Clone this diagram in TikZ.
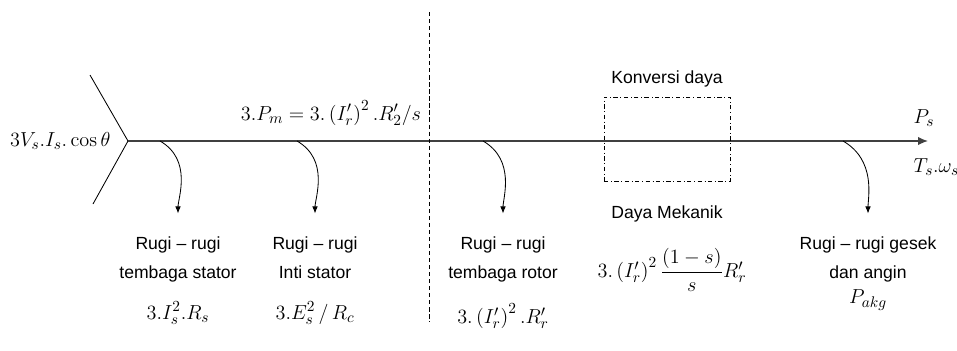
\documentclass[tikz,border=0pt]{standalone}
\usepackage{amsmath}
\usepackage[no-math]{fontspec}
\setmainfont{Liberation Sans}
\usetikzlibrary{arrows.meta, positioning}
\tikzstyle{loss} = [align=center, inner sep=0pt, anchor=north, font=\fontsize{12.5}{21}\selectfont]
\tikzstyle{formula} = [inner sep=1pt, font=\fontsize{15}{17}\selectfont]
\tikzstyle{arrow} = [semithick, -{Latex[length=5pt, width=4pt]}, shorten >=16pt]
\tikzstyle{flow} = [line width=1.1pt, draw=black!75, -{Latex[length=7pt, width=6pt]}]
\tikzstyle{convbox} = [rectangle, draw, dash dot, semithick, minimum width=3.15cm, minimum height=2.1cm]

\begin{document}
\begin{tikzpicture}[x=0.025cm, y=-0.025cm]
      \useasboundingbox (0,0) rectangle (957,350);

      % Daya masuk
      \coordinate (tip) at (128,141);
      \coordinate (chevtop) at (90,75);
      \coordinate (chevbot) at (93,204);
      \coordinate (out) at (928,141);
      \node[formula, anchor=east] (pin) at (112,141) {$3V_s.I_s.\cos\theta$};
      \node[formula] (pm) at (331,113) {$3.P_m = 3.\left(I_r'\right)^2.R_2'/s$};

      % Garis utama
      \draw[semithick] (chevtop) -- (tip) -- (chevbot);
      \draw[flow] (tip) -- (out);
      \node[formula, anchor=west] (ps) at (912,118) {$P_s$};
      \node[formula, anchor=west] (ts) at (912,167) {$T_s.\omega_s$};

      % Pemisah stator / rotor
      \coordinate (septop) at (429,12);
      \coordinate (sepbot) at (429,322);
      \draw[densely dashed, semithick] (septop) -- (sepbot);

      % Konversi daya
      \node[convbox] (conv) at (667,139) {};
      \node[above=3pt of conv, font=\fontsize{12.5}{14}\selectfont] (konv) {Konversi daya};
      \node[below=14pt of conv, font=\fontsize{12.5}{14}\selectfont] (mek) {Daya Mekanik};
      \node[formula] (fm) at (672,270) {$3.\left(I_r'\right)^2\dfrac{(1-s)}{s}R_r'$};

      % Rugi-rugi
      \node[loss] (l1) at (178,236) {Rugi – rugi\\tembaga stator};
      \node[loss] (l2) at (315,236) {Rugi – rugi\\Inti stator};
      \node[loss] (l3) at (503,236) {Rugi – rugi\\tembaga rotor};
      \node[loss] (l4) at (868,236) {Rugi – rugi gesek\\dan angin};

      \node[formula] (f1) at (178,313) {$3.I_s^2.R_s$};
      \node[formula] (f2) at (315,313) {$3.E_s^2\,/\,R_c$};
      \node[formula] (f3) at (503,316) {$3.\left(I_r'\right)^2.R_r'$};
      \node[formula] (f4) at (868,300) {$P_{akg}$};

      % Panah
      \coordinate (s1) at (160,141);
      \coordinate (s2) at (297,141);
      \coordinate (s3) at (483,141);
      \coordinate (s4) at (843,141);
      \draw[arrow] (s1) to[out=-30, in=90] (l1.north);
      \draw[arrow] (s2) to[out=-30, in=90] (l2.north);
      \draw[arrow] (s3) to[out=-30, in=90] (l3.north);
      \draw[arrow] (s4) to[out=-30, in=90] (l4.north);
\end{tikzpicture}
\end{document}
